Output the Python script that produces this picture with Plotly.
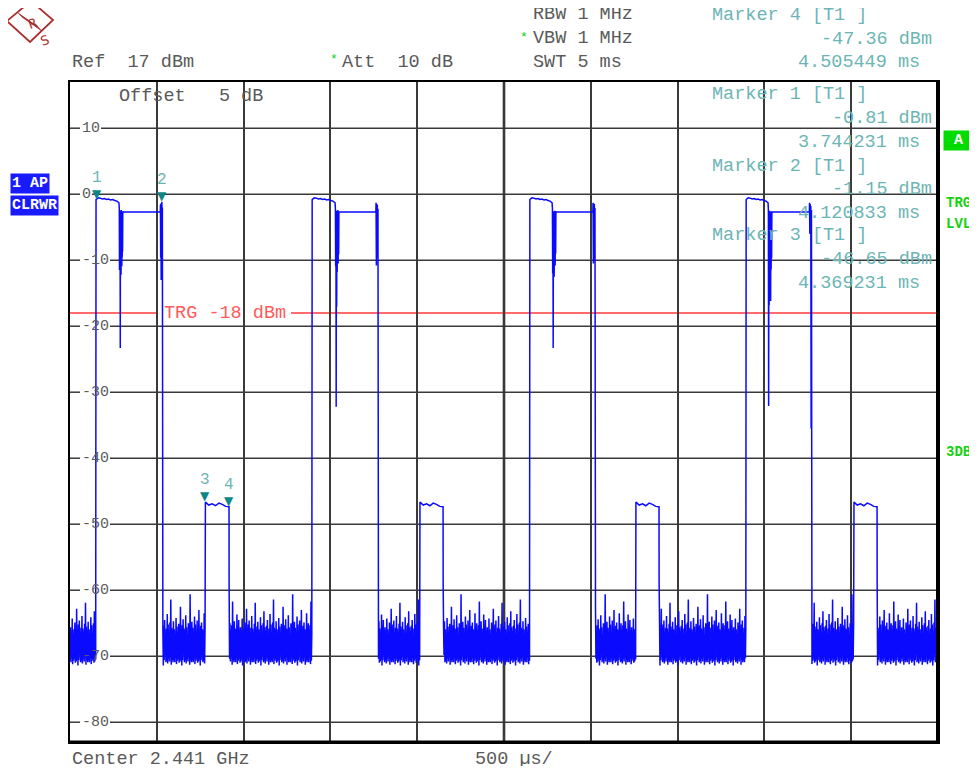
import numpy as np
import plotly.graph_objects as go

# ---------------- data ----------------
SWEEP_START_MS = 3.589
SWEEP_SPAN_MS = 5.0
DIV_MS = 0.5
REF_LEVEL_DBM = 17
Y_BOTTOM_DBM = -83
TRIGGER_DBM = -18
Y_TICKS = [10, 0, -10, -20, -30, -40, -50, -60, -70, -80]

BURST_START_MS = [3.739, 4.984, 6.238, 7.484]
BURST_DROP_MS = [3.871, 5.116, 6.366, 7.610]
BURST_END_MS = [4.121, 5.363, 6.613, 7.860]
SMALL_START_MS = [4.369, 5.605, 6.849, 8.105]
SMALL_END_MS = [4.505, 5.738, 6.982, 8.238]

BURST_TOP_DBM = [-0.81, -0.55, -0.6, -0.72, -0.65, -0.8, -0.74, -0.88, -0.8, -0.95, -1.05, -1.3]
BURST_FLAT_DBM = -2.7
DROP_SPIKES_DBM = [
    [-2.2, -11.5, -2.6, -10.8, -3.0, -23.3, -2.5, -10.6, -2.9, -12.2, -2.4, -9.8, -3.3, -10.9,
     -2.6, -9.5, -2.8, -8.7, -2.6],
    [-2.3, -10.9, -2.6, -32.2, -2.8, -17.0, -2.5, -11.8, -3.1, -9.8, -2.4, -10.5, -2.9, -9.1, -2.7],
    [-2.2, -12.0, -2.7, -23.3, -2.6, -10.4, -3.0, -12.5, -2.9, -9.6, -2.5, -10.8, -2.8, -9.0, -2.7],
    [-2.4, -32.1, -3.0, -16.8, -2.5, -12.0, -3.2, -10.3, -2.6, -16.2, -2.8, -11.4, -2.9, -9.7, -2.7],
]
FALL_SPIKES_DBM = [
    [-1.6, -9.6, -1.4, -13.0, -1.8, -10.2, -1.15, -9.4, -2.0],
    [-1.3, -10.8, -1.5, -9.6, -1.6, -8.9, -2.2],
    [-1.3, -10.5, -1.4, -9.8, -1.5, -9.2, -2.1],
    [-1.3, -6.0, -1.5, -5.8, -1.8, -35.5, -2.4],
]
SMALL_TOP_DBM = [-46.65, -47.1, -46.9, -47.2, -46.8, -47.0, -47.3, -47.36]
SMALL_EDGE_DBM = -59.0

NOISE_HIGH_DBM = [
    -65.6, -66.2, -64.3, -65.9, -66.6, -64.9, -65.4, -62.8, -66.1, -65.2,
    -64.6, -66.4, -65.7, -63.9, -65.8, -66.3, -65.1, -61.9, -65.5, -66.0,
    -64.8, -65.9, -67.4, -64.1, -65.3, -66.5, -65.0, -63.2, -65.6, -66.2,
    -65.4, -64.5, -66.7, -65.8, -63.6, -65.2, -66.4, -64.9, -61.4, -65.7,
    -66.0, -64.7, -65.9, -67.2, -64.2, -65.5, -66.3, -65.1, -65.6, -62.5,
    -66.5, -65.3, -64.4, -65.8, -66.1, -63.8, -65.6, -67.0, -65.0, -65.4,
    -60.6, -66.2, -64.8, -65.7, -66.6, -64.0, -65.2, -66.3, -64.6, -65.8,
    -63.0, -66.5, -65.4, -64.9, -65.9, -66.2, -63.5, -65.5, -65.0, -66.0,
    -65.3, -61.7, -66.4, -64.7, -65.8, -66.8, -63.7, -65.4, -64.5, -66.1,
]
NOISE_LOW_DBM = [
    -70.6, -70.9, -70.3, -71.2, -70.7, -70.4, -71.0, -70.8, -70.5, -71.4,
    -70.6, -69.8, -70.9, -70.7, -71.1, -70.4, -70.8, -70.2, -71.3, -70.6, -70.9,
]
NOISE_STEP_MS = 0.0025

MARKER_ID = [1, 2, 3, 4]
MARKER_TIME_MS = [3.744231, 4.120833, 4.369231, 4.505449]
MARKER_LEVEL_DBM = [-0.81, -1.15, -46.65, -47.36]
MARKER_BLOCK_ORDER = [4, 1, 2, 3]

SETTINGS = ["RBW 1 MHz", "VBW 1 MHz", "SWT 5 ms"]
REF_TEXT = "Ref\u00a0\u00a017 dBm"
ATT_TEXT = "Att\u00a0\u00a010 dB"
OFFSET_TEXT = "Offset\u00a0\u00a0\u00a05 dB"
CENTER_TEXT = "Center 2.441 GHz"
SPAN_TEXT = "500 \u00b5s/"

# ---------------- build trace ----------------
xs, ys = [], []
noise_counter = [0]


def add_noise(a, b):
    n = max(2, int(round((b - a) / NOISE_STEP_MS)))
    for x in np.linspace(a, b, n):
        k = noise_counter[0]
        if k % 2 == 0:
            y = NOISE_LOW_DBM[(k // 2) % len(NOISE_LOW_DBM)]
        else:
            y = NOISE_HIGH_DBM[(k // 2) % len(NOISE_HIGH_DBM)]
        xs.append(float(x))
        ys.append(y)
        noise_counter[0] += 1


def add_series(a, b, vals):
    for x, v in zip(np.linspace(a, b, len(vals)), vals):
        xs.append(float(x))
        ys.append(v)


sweep_end = SWEEP_START_MS + SWEEP_SPAN_MS
add_noise(SWEEP_START_MS, BURST_START_MS[0] - 0.002)
for i in range(4):
    s, d, e = BURST_START_MS[i], BURST_DROP_MS[i], BURST_END_MS[i]
    add_series(s, d, BURST_TOP_DBM)
    add_series(d + 0.002, d + 0.022, DROP_SPIKES_DBM[i])
    xs.extend([d + 0.024, e - 0.012])
    ys.extend([BURST_FLAT_DBM, BURST_FLAT_DBM])
    add_series(e - 0.011, e, FALL_SPIKES_DBM[i])
    add_noise(e + 0.003, SMALL_START_MS[i] - 0.002)
    add_series(SMALL_START_MS[i], SMALL_END_MS[i], SMALL_TOP_DBM)
    xs.append(SMALL_END_MS[i] + 0.0005)
    ys.append(SMALL_EDGE_DBM)
    nxt = BURST_START_MS[i + 1] - 0.002 if i < 3 else sweep_end
    add_noise(SMALL_END_MS[i] + 0.003, nxt)

fig = go.Figure()
fig.add_trace(go.Scatter(
    x=xs, y=ys, mode="lines",
    line=dict(color="rgb(10,10,255)", width=1.5, simplify=False),
    hoverinfo="skip",
))

# ---------------- layout helpers ----------------
# the page body has an 8px margin; figure is sized so it fits the 977x774 window
OFF = 8
W, H = 961, 758
L, R, T, B = 62, 31, 74, 24
PW, PH = W - L - R, H - T - B


def px(x):  # screenshot x -> paper
    return (x - OFF - L) / PW


def py(y):  # screenshot y -> paper
    return (H - B - (y - OFF)) / PH


MONO = "Liberation Mono, Courier New, monospace"
GRAY = "#5a5a5a"
TEAL_TXT = "#6cb5b5"
TEAL_MK = "#108585"
GREEN = "#14d214"
BLUE_BOX = "#1a1aff"
GRID = "#3a3a3a"

shapes = []
ann = []

# horizontal grid lines, broken around their labels
for v in Y_TICKS:
    lab = str(v)
    gap_end = px(81 + 9 * len(lab) + 2)
    shapes.append(dict(type="line", xref="paper", yref="y", x0=0, x1=px(80), y0=v, y1=v,
                       line=dict(color=GRID, width=1.5), layer="below"))
    shapes.append(dict(type="line", xref="paper", yref="y", x0=gap_end, x1=1, y0=v, y1=v,
                       line=dict(color=GRID, width=1.5), layer="below"))
    ann.append(dict(xref="paper", yref="y", x=px(80), y=v, xanchor="left", yanchor="middle",
                    text=lab, showarrow=False, font=dict(family=MONO, size=15, color=GRAY)))

# center division line (bold)
shapes.append(dict(type="line", xref="x", yref="paper",
                   x0=SWEEP_START_MS + SWEEP_SPAN_MS / 2, x1=SWEEP_START_MS + SWEEP_SPAN_MS / 2,
                   y0=0, y1=1, line=dict(color="black", width=2.5), layer="below"))
# thick right / bottom frame
shapes.append(dict(type="line", xref="paper", yref="paper", x0=1, x1=1, y0=0, y1=1,
                   line=dict(color="black", width=4), layer="above"))
shapes.append(dict(type="line", xref="paper", yref="paper", x0=0, x1=1, y0=0, y1=0,
                   line=dict(color="black", width=3), layer="above"))
# trigger line (broken around its label)
shapes.append(dict(type="line", xref="paper", yref="y", x0=0, x1=px(158),
                   y0=TRIGGER_DBM, y1=TRIGGER_DBM, line=dict(color="#ff3838", width=1.3), layer="below"))
shapes.append(dict(type="line", xref="paper", yref="y", x0=px(291), x1=1,
                   y0=TRIGGER_DBM, y1=TRIGGER_DBM, line=dict(color="#ff3838", width=1.3), layer="below"))
ann.append(dict(xref="paper", yref="y", x=px(162), y=TRIGGER_DBM, xanchor="left", yanchor="middle",
                text=f"TRG {TRIGGER_DBM} dBm", showarrow=False,
                font=dict(family=MONO, size=18.5, color="#ff5a5a")))

# markers on trace
for n, t, lv in zip(MARKER_ID, MARKER_TIME_MS, MARKER_LEVEL_DBM):
    ann.append(dict(x=t, y=lv, xref="x", yref="y", text="\u25bc", showarrow=False,
                    xanchor="center", yanchor="bottom", yshift=-3,
                    font=dict(family="DejaVu Sans", size=12, color=TEAL_MK)))
    ann.append(dict(x=t, y=lv, xref="x", yref="y", text=str(n), showarrow=False,
                    xanchor="center", yanchor="bottom", yshift=11,
                    font=dict(family=MONO, size=16, color=TEAL_TXT)))

# marker readout blocks
block_y = [16, 95, 166, 236]
line_gap = 23.5
for by, n in zip(block_y, MARKER_BLOCK_ORDER):
    j = MARKER_ID.index(n)
    ann.append(dict(xref="paper", yref="paper", x=px(710), y=py(by), xanchor="left", yanchor="middle",
                    text=f"Marker {n} [T1 ]", showarrow=False,
                    font=dict(family=MONO, size=18.5, color=TEAL_TXT)))
    ann.append(dict(xref="paper", yref="paper", x=px(934), y=py(by + line_gap), xanchor="right",
                    yanchor="middle", text=f"{MARKER_LEVEL_DBM[j]:.2f} dBm", showarrow=False,
                    font=dict(family=MONO, size=18.5, color=TEAL_TXT)))
    ann.append(dict(xref="paper", yref="paper", x=px(922), y=py(by + 2 * line_gap), xanchor="right",
                    yanchor="middle", text=f"{MARKER_TIME_MS[j]:.6f} ms", showarrow=False,
                    font=dict(family=MONO, size=18.5, color=TEAL_TXT)))

# header texts
for txt, yy in zip(SETTINGS, [15, 39, 62]):
    ann.append(dict(xref="paper", yref="paper", x=px(531), y=py(yy), xanchor="left", yanchor="middle",
                    text=txt, showarrow=False, font=dict(family=MONO, size=18.5, color=GRAY)))
ann.append(dict(xref="paper", yref="paper", x=px(518), y=py(37), xanchor="left", yanchor="middle",
                text="*", showarrow=False, font=dict(family=MONO, size=13, color=GREEN)))
ann.append(dict(xref="paper", yref="paper", x=px(328), y=py(60), xanchor="left", yanchor="middle",
                text="*", showarrow=False, font=dict(family=MONO, size=13, color=GREEN)))
ann.append(dict(xref="paper", yref="paper", x=px(340), y=py(62), xanchor="left", yanchor="middle",
                text=ATT_TEXT, showarrow=False, font=dict(family=MONO, size=18.5, color=GRAY)))
ann.append(dict(xref="paper", yref="paper", x=px(70), y=py(62), xanchor="left", yanchor="middle",
                text=REF_TEXT, showarrow=False, font=dict(family=MONO, size=18.5, color=GRAY)))
ann.append(dict(xref="paper", yref="paper", x=px(117), y=py(96), xanchor="left", yanchor="middle",
                text=OFFSET_TEXT, showarrow=False, font=dict(family=MONO, size=18.5, color=GRAY)))
ann.append(dict(xref="paper", yref="paper", x=px(70), y=py(759), xanchor="left", yanchor="middle",
                text=CENTER_TEXT, showarrow=False, font=dict(family=MONO, size=18.5, color=GRAY)))
ann.append(dict(xref="paper", yref="paper", x=px(473), y=py(759), xanchor="left", yanchor="middle",
                text=SPAN_TEXT, showarrow=False, font=dict(family=MONO, size=18.5, color=GRAY)))

# left status boxes
ann.append(dict(xref="paper", yref="paper", x=px(10), y=py(183), xanchor="left", yanchor="middle",
                text="1 AP", showarrow=False, bgcolor=BLUE_BOX, borderpad=1,
                font=dict(family=MONO, size=15, color="white", weight="bold")))
ann.append(dict(xref="paper", yref="paper", x=px(10), y=py(205), xanchor="left", yanchor="middle",
                text="CLRWR", showarrow=False, bgcolor=BLUE_BOX, borderpad=1,
                font=dict(family=MONO, size=15, color="white", weight="bold")))
# right status
ann.append(dict(xref="paper", yref="paper", x=px(943), y=py(141), xanchor="left", yanchor="middle",
                text="\u00a0A\u00a0", showarrow=False, bgcolor="#00dc00", borderpad=1,
                font=dict(family=MONO, size=15, color="white", weight="bold")))
for txt, yy in zip(["TRG", "LVL", "3DB"], [203, 224, 452]):
    ann.append(dict(xref="paper", yref="paper", x=px(944), y=py(yy), xanchor="left", yanchor="middle",
                    text=txt, showarrow=False,
                    font=dict(family=MONO, size=14, color=GREEN, weight="bold")))

# R&S logo
LOGO = "#a8302f"
dpath = (f"M {px(31)},{py(1)} L {px(53)},{py(20)} L {px(30)},{py(42)} L {px(7)},{py(21)} Z")
shapes.append(dict(type="path", xref="paper", yref="paper", path=dpath,
                   line=dict(color=LOGO, width=1.8), fillcolor="rgba(0,0,0,0)", layer="above"))
for off in [-2, -1, 0, 1, 2]:
    shapes.append(dict(type="line", xref="paper", yref="paper",
                       x0=px(20 + off), y0=py(15 + off), x1=px(40 + off), y1=py(29 + off),
                       line=dict(color=LOGO, width=0.8), layer="above"))
ann.append(dict(xref="paper", yref="paper", x=px(23), y=py(12), text="R", showarrow=False,
                font=dict(family="DejaVu Sans", size=13, color=LOGO), textangle=-20))
ann.append(dict(xref="paper", yref="paper", x=px(36), y=py(30), text="S", showarrow=False,
                font=dict(family="DejaVu Sans", size=13, color=LOGO), textangle=-20))

fig.update_layout(
    width=W, height=H,
    margin=dict(l=L, r=R, t=T, b=B, pad=0),
    paper_bgcolor="white", plot_bgcolor="white",
    showlegend=False,
    xaxis=dict(range=[SWEEP_START_MS, sweep_end], tick0=SWEEP_START_MS, dtick=DIV_MS,
               showgrid=True, gridcolor=GRID, gridwidth=1.5, zeroline=False,
               showticklabels=False, ticks="", showline=True, linecolor="black",
               linewidth=2, mirror=True, fixedrange=True),
    yaxis=dict(range=[Y_BOTTOM_DBM, REF_LEVEL_DBM], tick0=0, dtick=10,
               showgrid=False, zeroline=False,
               showticklabels=False, ticks="", showline=True, linecolor="black",
               linewidth=2, mirror=True, fixedrange=True),
    shapes=shapes,
    annotations=ann,
)

fig.write_html("out.html")
